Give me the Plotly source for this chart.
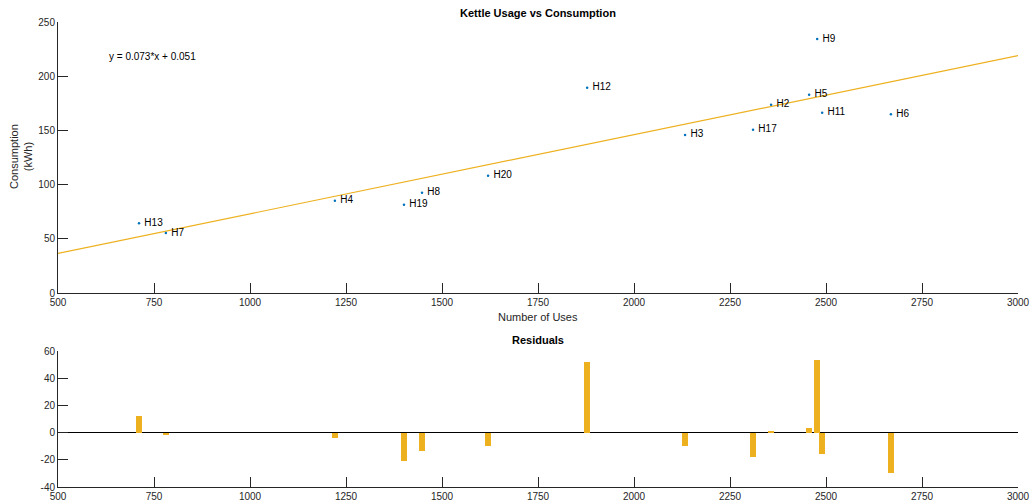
import numpy as np
import plotly.graph_objects as go

# ---- data ----
labels = ["H13", "H7", "H4", "H19", "H8", "H20", "H12", "H3", "H17", "H2", "H5", "H9", "H11", "H6"]
uses = [711, 781, 1221, 1401, 1448, 1620, 1878, 2133, 2310, 2357, 2456, 2477, 2490, 2669]
consumption = [64.3, 55.3, 85.0, 81.3, 92.4, 108.2, 189.3, 145.8, 150.6, 173.6, 182.9, 234.3, 166.2, 165.0]

slope = 0.073
intercept = 0.051
x_range = [500, 3000]

top_xticks = [500, 750, 1000, 1250, 1500, 1750, 2000, 2250, 2500, 2750, 3000]
top_yticks = [0, 50, 100, 150, 200, 250]
res_yticks = [-40, -20, 0, 20, 40, 60]
res_yticklabels = ["-40", "-20", "0", "20", "40", "60"]

uses_a = np.array(uses, dtype=float)
cons_a = np.array(consumption, dtype=float)
residuals = cons_a - (slope * uses_a + intercept)
fit_x = np.array(x_range, dtype=float)
fit_y = slope * fit_x + intercept

BLUE = "#0072BD"
ORANGE = "#EDB120"
AX = "#262626"
FONT = "Liberation Sans, Arial, Helvetica, sans-serif"

W, H = 1033, 504
L, R = 58, 15


def py(pix):
    return 1 - pix / H


def px(pix):
    return (pix - L) / (W - L - R)


fig = go.Figure()

fig.add_trace(go.Scatter(
    x=fit_x, y=fit_y, mode="lines",
    line=dict(color=ORANGE, width=1.2),
    xaxis="x", yaxis="y", hoverinfo="skip", showlegend=False))

fig.add_trace(go.Scatter(
    x=uses, y=consumption, mode="markers+text",
    text=[" " + t for t in labels], textposition="middle right",
    textfont=dict(family=FONT, size=10, color="#000000"),
    marker=dict(color=BLUE, size=2.5),
    xaxis="x", yaxis="y", showlegend=False, cliponaxis=False))

fig.add_trace(go.Bar(
    x=uses, y=residuals, width=16,
    marker=dict(color=ORANGE, line=dict(width=0)),
    xaxis="x2", yaxis="y2", showlegend=False))

axis_common = dict(
    showline=True, linecolor=AX, linewidth=1, mirror=False,
    ticks="inside", ticklen=10, tickcolor=AX, tickwidth=1,
    showgrid=False, zeroline=False, automargin=False,
    tickfont=dict(family=FONT, size=10, color=AX),
)

fig.update_layout(
    width=W, height=H,
    margin=dict(l=L, r=R, t=0, b=0, pad=0, autoexpand=False),
    paper_bgcolor="white", plot_bgcolor="white",
    font=dict(family=FONT, size=10, color=AX),
    bargap=0,
    xaxis=dict(domain=[0, 1], range=x_range, tickvals=top_xticks, anchor="y", **axis_common),
    yaxis=dict(domain=[py(293), py(22)], range=[0, 250], tickvals=top_yticks, anchor="x", **axis_common),
    xaxis2=dict(domain=[0, 1], range=x_range, tickvals=top_xticks, anchor="y2", **axis_common),
    yaxis2=dict(domain=[py(487), py(351)], range=[-40, 60], tickvals=res_yticks,
                ticktext=res_yticklabels, anchor="x2",
                **{**axis_common, "zeroline": True}, zerolinecolor="#000000", zerolinewidth=1),
)

ann_common = dict(xref="paper", yref="paper", showarrow=False, xanchor="center", yanchor="middle")
annotations = [
    dict(text="<b>Kettle Usage vs Consumption</b>", x=px(538), y=py(13),
         font=dict(family=FONT, size=11, color="#000000"), **ann_common),
    dict(text="<b>Residuals</b>", x=px(538), y=py(340),
         font=dict(family=FONT, size=11, color="#000000"), **ann_common),
    dict(text="Number of Uses", x=px(538), y=py(317),
         font=dict(family=FONT, size=11, color=AX), **ann_common),
    dict(text="Consumption<br>(kWh)", x=px(21), y=py(157), textangle=-90,
         font=dict(family=FONT, size=11, color=AX), **ann_common),
    dict(text="y = 0.073*x + 0.051", x=627, y=218.5, xref="x", yref="y", xanchor="left",
         yanchor="middle", showarrow=False, font=dict(family=FONT, size=10, color="#000000")),
]
fig.update_layout(annotations=annotations)

fig.write_html("out.html")
